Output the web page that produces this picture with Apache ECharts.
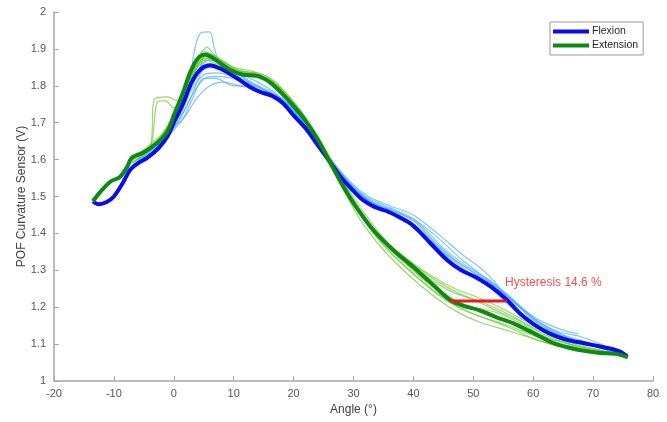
<!DOCTYPE html>
<html>
<head>
<meta charset="utf-8">
<script src="https://cdn.jsdelivr.net/npm/echarts@6/dist/echarts.min.js"></script>
<style>
  html, body { margin: 0; padding: 0; background: #fff; }
  #chart { width: 667px; height: 422px; }
</style>
</head>
<body>
<div id="chart"></div>
<script>
// Mean sensor response over the bending cycle: [angle (deg), voltage (V)]
const flexionMean = [
  [-13.5,1.487],[-12.5,1.479],[-11.2,1.485],[-10,1.50],[-8.5,1.537],[-7.3,1.572],[-6,1.59],
  [-4.5,1.604],[-2.5,1.632],[-1,1.665],[0,1.70],[1.5,1.75],[3,1.81],[4.5,1.845],[6,1.856],
  [8,1.845],[10.5,1.821],[12.7,1.797],[14.5,1.783],[16.5,1.772],[18.2,1.753],[20,1.72],
  [22,1.685],[24,1.64],[26,1.595],[28,1.55],[30,1.515],[31.6,1.49],[33.5,1.472],[35.6,1.46],
  [37.5,1.445],[39.4,1.428],[41,1.405],[42.8,1.374],[45.6,1.328],[48,1.30],[50.6,1.28],
  [53,1.255],[55.6,1.22],[58,1.18],[60,1.155],[62,1.135],[64,1.12],[66,1.11],[68.3,1.103],
  [71,1.094],[73.3,1.086],[74.5,1.08],[75.7,1.066]
];
const extensionMean = [
  [-13.5,1.487],[-12.3,1.512],[-10.6,1.54],[-9,1.553],[-7.8,1.58],[-7,1.605],[-5,1.62],
  [-2.8,1.645],[-1.1,1.675],[0,1.72],[1.5,1.78],[2.7,1.835],[3.9,1.872],[5.2,1.885],
  [7.2,1.868],[9.4,1.843],[11.6,1.83],[14,1.827],[16,1.81],[18,1.78],[20,1.745],[22,1.705],
  [24,1.655],[26,1.595],[28,1.535],[30,1.482],[33.3,1.409],[36.6,1.355],[40,1.309],[43,1.265],
  [46.1,1.22],[48.5,1.203],[51,1.192],[54,1.172],[56.6,1.157],[60,1.13],[63.3,1.103],
  [66,1.09],[68,1.083],[71.2,1.076],[74,1.073],[75.8,1.064]
];

// Individual repetitions
const flexionTrials = [
  [[-7,1.585],[-4,1.62],[-1,1.67],[1,1.73],[2.5,1.80],[3.5,1.90],[4.5,1.943],[6,1.946],[6.8,1.90],
   [8,1.85],[11,1.83],[14,1.79],[17,1.77],[20,1.725],[24,1.645],[28,1.56],[32,1.50],[36,1.47],
   [40,1.44],[44,1.39],[48,1.33],[52,1.28],[56,1.23],[60,1.17],[64,1.135],[68,1.12],[72,1.095],[75.5,1.07]],
  [[-7,1.58],[-3,1.63],[0,1.70],[2,1.76],[4,1.84],[6,1.87],[8,1.86],[11,1.835],[14,1.81],[17,1.78],
   [20,1.735],[24,1.65],[28,1.565],[32,1.505],[36,1.475],[40,1.45],[44,1.40],[48,1.345],[52,1.295],
   [56,1.225],[60,1.175],[63,1.15],[65.5,1.135],[67.5,1.128]],
  [[-7,1.575],[-3,1.62],[0,1.68],[2,1.72],[4,1.77],[6,1.80],[8,1.81],[11,1.80],[14,1.79],[17,1.77],
   [20,1.725],[24,1.645],[28,1.555],[32,1.49],[36,1.462],[40,1.425],[44,1.355],[48,1.30],[52,1.265],
   [56,1.215],[60,1.155],[64,1.12],[68,1.10],[72,1.09],[75.5,1.068]],
  [[-7,1.59],[-3,1.64],[0,1.71],[2,1.77],[4,1.83],[5.5,1.89],[7,1.88],[9,1.85],[12,1.82],[15,1.79],
   [18,1.765],[21,1.71],[25,1.62],[29,1.535],[33,1.485],[37,1.455],[41,1.415],[45,1.35],[49,1.305],
   [53,1.265],[57,1.21],[61,1.155],[65,1.12],[70,1.10],[75,1.075]],
  [[-6,1.60],[-2,1.66],[1,1.72],[3,1.79],[5,1.83],[7,1.835],[9,1.83],[12,1.81],[15,1.78],[18,1.765],
   [21,1.72],[25,1.625],[29,1.54],[33,1.48],[37,1.45],[41,1.41],[45,1.345],[49,1.29],[53,1.25],
   [57,1.19],[61,1.145],[65,1.115],[70,1.095],[75,1.07]],
  [[-6,1.595],[-2,1.65],[0,1.69],[1.5,1.71],[3,1.76],[5,1.82],[7,1.82],[10,1.80],[13,1.80],[16,1.78],
   [19,1.75],[22,1.69],[26,1.605],[30,1.525],[34,1.475],[38,1.445],[42,1.39],[46,1.335],[50,1.285],
   [54,1.245],[58,1.18],[62,1.14],[66,1.115],[71,1.09],[75.5,1.07]],
  [[-6,1.60],[-2,1.655],[1,1.71],[3,1.775],[5,1.845],[7,1.85],[9,1.84],[12,1.815],[15,1.79],[18,1.765],
   [21,1.715],[25,1.625],[29,1.54],[33,1.485],[37,1.46],[41,1.425],[45,1.36],[49,1.31],[53,1.27],
   [57,1.215],[61,1.16],[65,1.125],[70,1.10],[75,1.072]],
  [[-7,1.58],[-3,1.625],[0,1.685],[2,1.74],[4,1.80],[6,1.825],[8,1.825],[11,1.815],[14,1.80],[17,1.775],
   [20,1.73],[24,1.645],[28,1.56],[32,1.495],[36,1.465],[40,1.435],[44,1.37],[48,1.315],[52,1.275],
   [56,1.225],[60,1.165],[64,1.13],[68,1.105],[72,1.09],[75.5,1.07]]
];
const extensionTrials = [
  [[-7,1.60],[-4,1.63],[-3.2,1.765],[-1,1.77],[0.5,1.76],[2,1.80],[3.5,1.86],[5,1.895],[7,1.875],
   [10,1.845],[13,1.835],[16,1.815],[19,1.77],[22,1.71],[26,1.60],[30,1.485],[34,1.40],[38,1.34],
   [42,1.285],[46,1.245],[50,1.22],[54,1.19],[58,1.16],[62,1.125],[66,1.10],[70,1.085],[75,1.07]],
  [[-7,1.595],[-4,1.625],[-2.8,1.755],[-1.5,1.76],[0,1.74],[2,1.79],[4,1.87],[5.5,1.905],[7,1.88],
   [10,1.85],[13,1.84],[16,1.82],[19,1.775],[22,1.715],[26,1.605],[30,1.49],[34,1.395],[38,1.33],
   [42,1.27],[46,1.225],[50,1.20],[54,1.185],[58,1.155],[62,1.12],[66,1.10],[70,1.085],[75,1.07]],
  [[-7,1.60],[-3,1.64],[0,1.71],[2,1.78],[4,1.85],[6,1.87],[8,1.86],[11,1.835],[14,1.83],[17,1.80],
   [20,1.745],[24,1.655],[28,1.54],[32,1.43],[36,1.35],[40,1.29],[44,1.235],[48,1.195],[52,1.17],
   [56,1.145],[60,1.115],[64,1.095],[68,1.085],[72,1.078],[75.5,1.068]],
  [[-6,1.615],[-2,1.67],[1,1.75],[3,1.83],[5,1.88],[7,1.87],[10,1.84],[13,1.83],[16,1.815],[19,1.77],
   [23,1.685],[27,1.57],[31,1.455],[35,1.37],[39,1.305],[43,1.25],[47,1.205],[51,1.175],[55,1.155],
   [59,1.13],[63,1.105],[67,1.09],[71,1.08],[75.5,1.068]],
  [[-6,1.61],[-2,1.665],[1,1.745],[3,1.82],[5,1.87],[7,1.86],[10,1.835],[13,1.825],[16,1.81],[19,1.765],
   [23,1.68],[27,1.56],[31,1.44],[35,1.355],[39,1.29],[43,1.235],[47,1.19],[51,1.16],[55,1.14],
   [59,1.12],[63,1.10],[67,1.085],[71,1.078],[75.5,1.066]],
  [[-7,1.598],[-3,1.645],[0,1.72],[2,1.79],[4,1.86],[6,1.885],[8,1.87],[11,1.84],[14,1.835],[17,1.81],
   [20,1.755],[24,1.665],[28,1.55],[32,1.45],[36,1.37],[40,1.315],[44,1.27],[48,1.235],[52,1.21],
   [56,1.18],[60,1.145],[64,1.115],[68,1.09],[72,1.08],[75.5,1.068]],
  [[-7,1.59],[-3,1.64],[0,1.715],[2,1.785],[4,1.855],[6,1.875],[8,1.865],[11,1.84],[14,1.83],[17,1.805],
   [20,1.75],[24,1.66],[28,1.545],[32,1.44],[36,1.36],[40,1.30],[44,1.25],[48,1.21],[52,1.18],
   [56,1.16],[60,1.135],[64,1.105],[68,1.088],[72,1.079],[75.5,1.067]],
  [[-6,1.605],[-2,1.66],[1,1.74],[3,1.815],[5,1.875],[7,1.87],[10,1.845],[13,1.835],[16,1.815],[19,1.77],
   [23,1.68],[27,1.565],[31,1.46],[35,1.385],[39,1.33],[43,1.285],[47,1.25],[51,1.225],[55,1.195],
   [59,1.16],[63,1.125],[67,1.10],[71,1.085],[75.5,1.068]]
];

// Hysteresis marker: horizontal gap between the two mean curves
const hysteresisSegment = [[46.1,1.217],[55.6,1.217]];
const hysteresisLabelAt = [55.3,1.266];
const hysteresisText = 'Hysteresis 14.6 %';

const FONT = '"Liberation Sans", Arial, Helvetica, sans-serif';
const BLUE = '#0b0bef';
const GREEN = '#0e8a12';
const LIGHT_BLUE = '#4fb0ee';
const LIGHT_GREEN = '#72c93a';
const SMOOTH = 0.3;

function trialSeries(data, color) {
  return {
    type: 'line', data: data, smooth: SMOOTH, showSymbol: false, silent: true,
    lineStyle: { color: color, width: 1.2, opacity: 0.72 }, z: 2
  };
}

const series = [];
flexionTrials.forEach(t => series.push(trialSeries(t, LIGHT_BLUE)));
extensionTrials.forEach(t => series.push(trialSeries(t, LIGHT_GREEN)));
series.push({
  name: 'Flexion', type: 'line', data: flexionMean, smooth: SMOOTH, showSymbol: false,
  lineStyle: { color: BLUE, width: 4 }, itemStyle: { color: BLUE }, z: 3
});
series.push({
  name: 'Extension', type: 'line', data: extensionMean, smooth: SMOOTH, showSymbol: false,
  lineStyle: { color: GREEN, width: 4 }, itemStyle: { color: GREEN }, z: 4
});
series.push({
  type: 'line', data: hysteresisSegment, showSymbol: false, silent: true,
  lineStyle: { color: '#f01818', width: 3 }, z: 5
});
series.push({
  type: 'scatter', data: [hysteresisLabelAt], symbolSize: 0, silent: true, z: 6,
  label: {
    show: true, position: 'right', distance: 0, formatter: hysteresisText,
    color: '#ee2222', fontSize: 12, fontFamily: FONT
  }
});

const chart = echarts.init(document.getElementById('chart'), null, { renderer: 'canvas' });
chart.setOption({
  animation: false,
  backgroundColor: '#ffffff',
  grid: { left: 54, right: 14, top: 12, bottom: 41, containLabel: false },
  legend: {
    data: ['Flexion', 'Extension'],
    orient: 'vertical', left: 550, top: 22,
    itemWidth: 36, itemHeight: 4, itemGap: 3,
    padding: [4, 5, 4, 3],
    icon: 'rect',
    backgroundColor: '#ffffff', borderColor: '#9a9a9a', borderWidth: 1, borderRadius: 0,
    textStyle: { fontSize: 10.5, color: '#262626', fontFamily: FONT, padding: [0, 0, 0, -2] }
  },
  xAxis: {
    type: 'value', min: -20, max: 80, interval: 10,
    name: 'Angle (°)', nameLocation: 'middle', nameGap: 23, nameMoveOverlap: false,
    nameTextStyle: { fontSize: 12, color: '#404040', fontFamily: FONT },
    axisLine: { onZero: false, lineStyle: { color: '#a6a6a6', width: 1.5 } },
    axisTick: { inside: true, length: 5, lineStyle: { color: '#a6a6a6' } },
    axisLabel: { fontSize: 11, color: '#555555', fontFamily: FONT, margin: 7 },
    splitLine: { show: false }
  },
  yAxis: {
    type: 'value', min: 1, max: 2, interval: 0.1,
    name: 'POF Curvature Sensor (V)', nameLocation: 'middle', nameGap: 26, nameRotate: 90,
    nameMoveOverlap: false,
    nameTextStyle: { fontSize: 12, color: '#404040', fontFamily: FONT },
    axisLine: { show: true, onZero: false, lineStyle: { color: '#a6a6a6', width: 1.5 } },
    axisTick: { show: true, inside: true, length: 5, lineStyle: { color: '#a6a6a6' } },
    axisLabel: {
      fontSize: 11, color: '#555555', fontFamily: FONT, margin: 8,
      formatter: v => (Math.round(v * 10) / 10).toString()
    },
    splitLine: { show: false }
  },
  series: series
});
</script>
</body>
</html>
